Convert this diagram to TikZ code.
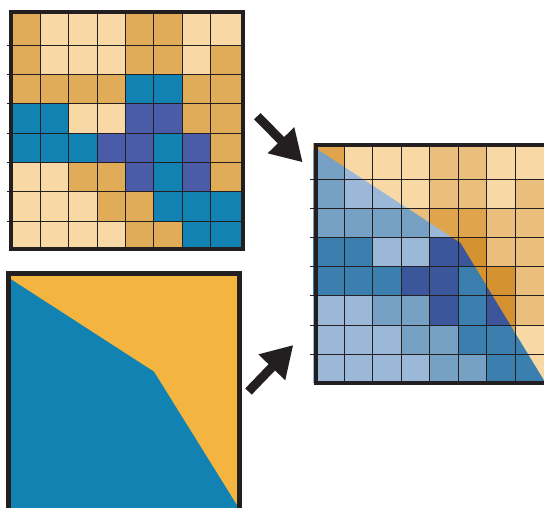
\documentclass[tikz,border=0pt]{standalone}
\usepackage{xcolor}
\usepackage{tikz}
\usetikzlibrary{arrows.meta}

\definecolor{framegray}{HTML}{231F20}
% predicted map
\definecolor{tL}{HTML}{F8D9A6}
\definecolor{tD}{HTML}{E0AC57}
\definecolor{tB}{HTML}{1282B3}
\definecolor{tP}{HTML}{4A5BA8}
% overlay map
\definecolor{oLT}{HTML}{F8D9A6}
\definecolor{oET}{HTML}{EABF7E}
\definecolor{oDT}{HTML}{E0A54C}
\definecolor{oOT}{HTML}{D49330}
\definecolor{oLB}{HTML}{9CB8D8}
\definecolor{oMB}{HTML}{76A0C4}
\definecolor{oTB}{HTML}{3A7FAE}
\definecolor{oPU}{HTML}{3B569B}
% ground truth
\definecolor{truthorange}{HTML}{F3B440}
\definecolor{truthblue}{HTML}{1282B3}

\begin{document}
\begin{tikzpicture}[
  x=1pt, y=-1pt,
  panel/.style={draw=framegray, line width=4pt},
  cellline/.style={draw=framegray, line width=0.9pt},
  bigarrow/.style={-{Triangle[length=31pt,width=35pt]}, line width=9pt, draw=framegray}
]
\clip (0,0) rectangle (544,508);

% predicted grid
\foreach \row [count=\ri from 0] in {{D,L,L,L,D,D,L,L},{D,L,L,L,D,D,L,D},{D,D,D,D,B,B,D,D},{B,B,L,L,P,P,D,D},{B,B,B,P,P,B,P,D},{L,L,D,D,P,B,P,D},{L,L,L,D,D,B,B,B},{L,L,L,L,D,D,B,B}}
  \foreach \cl [count=\ki from 0] in \row {
    \pgfmathsetmacro\xa{\ki==0 ? 9 : 12+\ki*28.35}
    \pgfmathsetmacro\xb{\ki==7 ? 243 : 12+(\ki+1)*28.35}
    \pgfmathsetmacro\ya{\ri==0 ? 10 : 16+\ri*29.28}
    \pgfmathsetmacro\yb{16+(\ri+1)*29.28}
    \fill[fill=t\cl] (\xa,\ya) rectangle (\xb,\yb);
  }
\foreach \ri in {1,...,7}
  \draw[cellline] (7,{16+\ri*29.28}) -- (242,{16+\ri*29.28});
\foreach \ki in {1,...,7}
  \draw[cellline] ({12+\ki*28.35},12) -- ({12+\ki*28.35},249);
\draw[panel] (11.2,12) rectangle (242.8,248.7);

% overlay grid
\foreach \row [count=\ri from 0] in {{DT,LT,LT,LT,ET,ET,LT,LT},{LT,LT,LT,LT,ET,ET,LT,ET},{ET,ET,ET,ET,DT,DT,ET,ET},{DT,DT,LT,LT,OT,OT,ET,ET},{DT,DT,DT,OT,OT,OT,OT,ET},{LT,LT,ET,ET,OT,DT,OT,ET},{LT,LT,LT,ET,ET,DT,DT,LT},{LT,LT,LT,LT,ET,ET,LT,LT}}
  \foreach \cl [count=\ki from 0] in \row {
    \pgfmathsetmacro\xa{\ki==0 ? 313 : 316+\ki*28.45}
    \pgfmathsetmacro\xb{316+(\ki+1)*28.45}
    \pgfmathsetmacro\ya{\ri==0 ? 143 : 149.8+\ri*29.2}
    \pgfmathsetmacro\yb{149.8+(\ri+1)*29.2}
    \fill[fill=o\cl] (\xa,\ya) rectangle (\xb,\yb);
  }
\begin{scope}
  \clip (317.3,149.3) -- (460.5,243) -- (548,387) -- (312,387) -- (312,149.3) -- cycle;
  \foreach \row [count=\ri from 0] in {{MB,LB,LB,LB,MB,MB,LB,LB},{MB,LB,LB,LB,MB,MB,LB,MB},{MB,MB,MB,MB,LB,LB,MB,MB},{TB,TB,LB,LB,PU,PU,MB,MB},{TB,TB,TB,PU,PU,TB,PU,MB},{LB,LB,MB,MB,PU,TB,PU,MB},{LB,LB,LB,MB,MB,TB,TB,TB},{LB,LB,LB,LB,MB,MB,TB,TB}}
    \foreach \cl [count=\ki from 0] in \row {
      \pgfmathsetmacro\xa{\ki==0 ? 313 : 316+\ki*28.45}
      \pgfmathsetmacro\xb{316+(\ki+1)*28.45}
      \pgfmathsetmacro\ya{\ri==0 ? 143 : 149.8+\ri*29.2}
      \pgfmathsetmacro\yb{149.8+(\ri+1)*29.2}
      \fill[fill=o\cl] (\xa,\ya) rectangle (\xb,\yb);
    }
\end{scope}
\foreach \ri in {1,...,7}
  \draw[cellline] (310,{149.8+\ri*29.2}) -- (546,{149.8+\ri*29.2});
\foreach \ki in {1,...,7}
  \draw[cellline] ({316+\ki*28.45},146) -- ({316+\ki*28.45},383);
\draw[panel] (315.8,145.5) rectangle (548,382.7);

% ground truth
\fill[truthorange] (10,275) rectangle (238.5,512);
\fill[truthblue] (11,279.3) -- (154,371.7) -- (237.5,506) -- (237.5,512) -- (10,512) -- cycle;
\draw[panel, line width=5pt] (8.5,273.5) rectangle (239.8,520);

% arrows
\coordinate (predtail) at (257.3,116.2);
\coordinate (predtip) at (302.7,162.3);
\coordinate (truthtail) at (248.5,391.5);
\coordinate (truthtip) at (293.3,345);
\draw[bigarrow] (predtail) -- (predtip);
\draw[bigarrow] (truthtail) -- (truthtip);

\end{tikzpicture}
\end{document}
